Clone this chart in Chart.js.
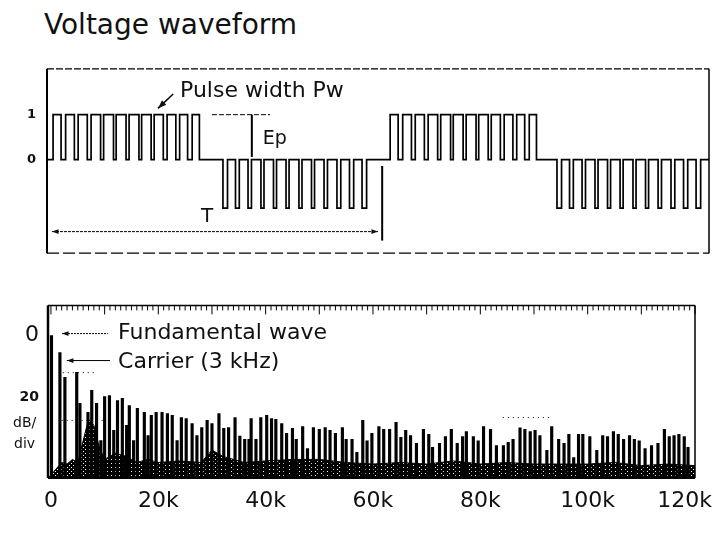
<!DOCTYPE html>
<html>
<head>
<meta charset="utf-8">
<script src="https://cdn.jsdelivr.net/npm/chart.js@4.4.1/dist/chart.umd.min.js"></script>
<style>
  body { margin: 0; background: #fff; width: 715px; height: 533px; overflow: hidden; position: relative; }
  #title { position: absolute; left: 44px; top: 11px; font: 28px/1 'DejaVu Sans', sans-serif; color: #111; }
  #wave { position: absolute; left: 0; top: 50px; }
  #spec { position: absolute; left: 0; top: 288px; }
</style>
</head>
<body>
<div id="title">Voltage waveform</div>
<canvas id="wave" width="715" height="222"></canvas>
<canvas id="spec" width="715" height="245"></canvas>
<script>
// Voltage waveform (time in ms, level in units of Ep)
const halfCycleStart = [0.16, 4.63, 9.03, 13.42];
const halfCycleLevel = [1, -1.08, 1, -1.08];
const pulseRise = [0, 0.33, 0.66, 1.0, 1.33, 1.66, 2.0, 2.33, 2.66, 3.0, 3.33, 3.66];
// width of each pulse: wide high pulses in the positive half, narrow dips in the negative half
const posPulseWidth = [0.21, 0.23, 0.24, 0.25, 0.26, 0.26, 0.26, 0.25, 0.24, 0.23, 0.21, 0.19];
const negPulseWidth = [0.12, 0.1, 0.09, 0.08, 0.08, 0.08, 0.08, 0.08, 0.09, 0.1, 0.11, 0.12];
const levelTicks = [0, 1];

// Spectrum (frequency in kHz, level in dB)
const specKHz = [0.1, 1.67, 2.6, 4.8, 5.4, 6.9, 7.6, 8.5, 9.3, 10.0, 10.9, 11.7, 12.4, 13.3, 14.1, 14.6, 15.4, 16.1,
  17.4, 18.1, 18.7, 19.6, 20.7, 21.7, 22.6, 23.5, 24.3, 25.2, 26.3, 27.2, 28.1, 29.1, 30.0, 31.3, 32.2, 33.1,
  34.3, 35.2, 36.1, 36.9, 37.3, 38.2, 39.1, 40.2, 41.1, 41.9, 43.0, 43.9, 45.0, 45.7, 46.9, 47.8, 48.9, 50.0,
  51.1, 52.0, 53.0, 54.3, 55.0, 56.1, 57.0, 58.1, 58.9, 59.8, 61.1, 62.0, 63.1, 64.3, 65.2, 66.1, 67.0, 68.1,
  69.4, 70.4, 71.1, 72.4, 73.5, 74.6, 75.7, 76.7, 77.4, 78.7, 79.6, 80.6, 81.9, 83.0, 84.3, 85.2, 86.1, 87.4,
  88.3, 89.3, 90.2, 91.1, 92.4, 93.3, 94.6, 95.6, 96.5, 97.4, 98.3, 99.1, 100.4, 101.7, 102.8, 103.7, 104.8,
  105.7, 106.7, 107.8, 108.7, 109.6, 110.7, 111.9, 113.1, 114.3, 115.2, 116.1, 117.0, 118.0, 118.7];
const specDb = [0, -5.5, -13.5, -11.9, -21.9, -24.8, -17.7, -21.9, -33.9, -19.7, -19.4, -30.6, -21, -20.3, -29, -22.6, -33.9, -23.5,
  -24.8, -32.3, -25.8, -24.8, -24.8, -25.2, -25.8, -33.9, -26.5, -26.8, -28.4, -32.3, -29.7, -27.4, -28.4, -25.2, -30, -29.7,
  -26.5, -32.5, -33.5, -33.5, -26.8, -33.5, -26.5, -25.8, -26.8, -27.1, -28.4, -31.6, -30, -33.5, -29.4, -36.5, -29.7, -30.3,
  -29.7, -30.6, -31.6, -29.7, -33.5, -33.5, -37.7, -27.4, -34, -31.6, -29.4, -30.3, -30.3, -28, -32.9, -30.6, -32.3, -34.8,
  -30.3, -31.9, -36.1, -34.8, -32.6, -30.3, -34.8, -32.6, -31, -32.6, -34, -29.4, -30.3, -35.5, -35.5, -34.5, -33.5, -29.8,
  -30.3, -31, -30.6, -32.3, -37.1, -29.4, -33.5, -34.8, -31.9, -39.4, -31.9, -31.9, -32.6, -37.1, -32.3, -32.6, -31,
  -31.9, -33.5, -32.3, -33.5, -34, -36.5, -35.5, -34.8, -30.3, -32.6, -32.3, -31.9, -32.6, -36.1];
const floorKHz = [-0.5, 1, 2, 3, 4, 5, 6, 7, 8, 9, 10, 12, 14, 16, 18, 20, 24, 28, 30, 32, 36, 40, 45, 50, 55, 60,
  65, 70, 75, 80, 85, 90, 95, 100, 105, 110, 115, 120];
const floorDb = [-46, -43, -41, -41.5, -40, -41, -34, -27, -29, -36, -40, -38, -39, -41, -40, -41, -40.5, -41, -37, -39, -41,
  -40.5, -40, -40, -41, -41.5, -41, -41.5, -40.5, -41.5, -41, -41.5, -41.5, -41.5, -41, -42, -41.5, -42];
const freqTicks = [0, 20, 40, 60, 80, 100];
const dbTicks = [0, -20];

const FONT = 'DejaVu Sans';
const INK = '#111';

// build the PWM trace from the pulse tables
const wavePoints = [{ x: 0, y: 0 }];
halfCycleStart.forEach((start, b) => {
  const lvl = halfCycleLevel[b];
  const widths = lvl > 0 ? posPulseWidth : negPulseWidth;
  pulseRise.forEach((r, i) => {
    const up = start + r, down = up + widths[i];
    wavePoints.push({ x: up, y: 0 }, { x: up, y: lvl }, { x: down, y: lvl }, { x: down, y: 0 });
  });
});
wavePoints.push({ x: 17.42, y: 0 });

function seg(ctx, x1, y1, x2, y2) {
  ctx.beginPath(); ctx.moveTo(x1, y1); ctx.lineTo(x2, y2); ctx.stroke();
}
function head(ctx, x, y, dir, size) {
  // small filled arrowhead pointing along dir (radians)
  ctx.beginPath();
  ctx.moveTo(x, y);
  ctx.lineTo(x - size * Math.cos(dir - 0.35), y - size * Math.sin(dir - 0.35));
  ctx.lineTo(x - size * Math.cos(dir + 0.35), y - size * Math.sin(dir + 0.35));
  ctx.closePath(); ctx.fill();
}

const waveDecor = {
  id: 'waveDecor',
  afterDraw(chart) {
    const { ctx, chartArea: a, scales: { x, y } } = chart;
    const X = v => x.getPixelForValue(v), Y = v => y.getPixelForValue(v);
    ctx.save();
    ctx.strokeStyle = '#000'; ctx.fillStyle = INK;
    // frame
    ctx.lineWidth = 2; seg(ctx, a.left, a.top, a.left, a.bottom);
    ctx.lineWidth = 1.5; seg(ctx, a.right, a.top, a.right, a.bottom);
    ctx.lineWidth = 1.2;
    ctx.setLineDash([7, 2]); seg(ctx, a.left, a.top, a.right, a.top);
    ctx.setLineDash([12, 4]); seg(ctx, a.left, a.bottom, a.right, a.bottom);
    ctx.setLineDash([]);

    // Pulse width Pw
    ctx.font = '22px ' + FONT; ctx.textBaseline = 'middle'; ctx.textAlign = 'left';
    ctx.fillText('Pulse width Pw', X(3.5), Y(1.52));
    ctx.lineWidth = 1.5;
    seg(ctx, X(3.32), Y(1.46), X(2.92), Y(1.14));
    head(ctx, X(2.92), Y(1.14), Math.atan2(Y(1.14) - Y(1.46), X(2.92) - X(3.32)), 9);

    // Ep
    ctx.lineWidth = 1; ctx.setLineDash([5, 2]);
    seg(ctx, X(4.34), Y(1), X(5.87), Y(1));
    ctx.setLineDash([]); ctx.lineWidth = 2;
    seg(ctx, X(5.39), Y(1), X(5.39), Y(0.06));
    ctx.font = '19px ' + FONT;
    ctx.fillText('Ep', X(5.68), Y(0.46));

    // T
    ctx.font = '20px ' + FONT; ctx.textAlign = 'center';
    ctx.fillText('T', X(4.21), Y(-1.28));
    ctx.lineWidth = 1; ctx.setLineDash([3, 1]);
    seg(ctx, X(0.13), Y(-1.6), X(8.71), Y(-1.6));
    ctx.setLineDash([]);
    head(ctx, X(0.13), Y(-1.6), Math.PI, 7);
    head(ctx, X(8.71), Y(-1.6), 0, 7);
    ctx.lineWidth = 2;
    seg(ctx, X(8.82), Y(-0.14), X(8.82), Y(-1.8));
    ctx.restore();
  }
};

new Chart(document.getElementById('wave'), {
  type: 'line',
  data: {
    datasets: [{
      data: wavePoints,
      borderColor: '#000',
      borderWidth: 1.7,
      pointRadius: 0,
      tension: 0,
      fill: false
    }]
  },
  options: {
    responsive: false,
    animation: false,
    layout: { padding: { top: 7, right: 6, bottom: 10, left: 0 } },
    plugins: { legend: { display: false }, tooltip: { enabled: false } },
    scales: {
      x: { type: 'linear', min: 0, max: 17.42, display: false },
      y: {
        min: -2.08, max: 2.02,
        afterFit: s => { s.width = 47; },
        afterBuildTicks: s => { s.ticks = levelTicks.map(v => ({ value: v })); },
        grid: { display: false, drawTicks: false },
        border: { display: false },
        ticks: { padding: 11, color: INK, font: { family: FONT, size: 13, weight: 'bold' } }
      }
    }
  },
  plugins: [waveDecor]
});

// dotted pattern for the dense sideband floor
function floorPattern() {
  const c = document.createElement('canvas');
  c.width = 4; c.height = 4;
  const g = c.getContext('2d');
  g.fillStyle = '#000'; g.fillRect(0, 0, 4, 4);
  g.fillStyle = '#fff'; g.fillRect(1, 1, 1, 1); g.fillRect(3, 3, 1, 1);
  return g.createPattern(c, 'repeat');
}

const specDecor = {
  id: 'specDecor',
  afterDraw(chart) {
    const { ctx, chartArea: a, scales: { x, y } } = chart;
    const X = v => x.getPixelForValue(v), Y = v => y.getPixelForValue(v);
    ctx.save();
    ctx.strokeStyle = '#000'; ctx.fillStyle = INK;
    // frame
    ctx.lineWidth = 2.5; seg(ctx, a.left, a.top, a.left, a.bottom);
    ctx.lineWidth = 2; seg(ctx, a.left, a.bottom, a.right, a.bottom);
    ctx.lineWidth = 1.5;
    seg(ctx, a.left, a.top, a.right, a.top);
    seg(ctx, a.right, a.top, a.right, a.bottom);
    // inward ticks along the top edge
    ctx.lineWidth = 1;
    for (let k = 0; k <= 120; k++) {
      const px = X(k);
      seg(ctx, px, a.top, px, a.top + (k % 10 === 0 ? 9 : 5));
    }
    // leftover reference dots
    ctx.setLineDash([1, 4]);
    seg(ctx, X(2.2), Y(-12), X(8.6), Y(-12));
    seg(ctx, X(2.0), Y(-27.4), X(10.4), Y(-27.4));
    seg(ctx, X(84.2), Y(-26.5), X(93), Y(-26.5));
    ctx.setLineDash([]);

    // labels with pointers
    ctx.font = '22px ' + FONT; ctx.textBaseline = 'middle'; ctx.textAlign = 'left';
    ctx.fillText('Fundamental wave', X(12.5), Y(0.6));
    ctx.fillText('Carrier (3 kHz)', X(12.5), Y(-8.7));
    ctx.lineWidth = 1;
    ctx.setLineDash([2, 1]);
    seg(ctx, X(2.05), Y(0.6), X(10.6), Y(0.6));
    ctx.setLineDash([]);
    head(ctx, X(2.05), Y(0.6), Math.PI, 7);
    seg(ctx, X(2.96), Y(-8.1), X(11), Y(-8.1));
    head(ctx, X(2.96), Y(-8.1), Math.PI, 7);

    // dB/div under the 20 tick
    ctx.font = '14px ' + FONT; ctx.textAlign = 'left';
    ctx.fillText('dB/', 13, Y(-28.4));
    ctx.fillText('div', 14, Y(-35.2));

    // last tick label and axis caption
    ctx.font = '22px ' + FONT; ctx.textAlign = 'right';
    ctx.fillText('120k', 712, a.bottom + 23);
    ctx.textBaseline = 'alphabetic';
    ctx.fillText('Frequency (Hz)', 712, 528);
    ctx.restore();
  }
};

new Chart(document.getElementById('spec'), {
  type: 'bar',
  data: {
    datasets: [{
      type: 'bar',
      data: specKHz.map((f, i) => ({ x: f, y: specDb[i] })),
      backgroundColor: '#000',
      barThickness: 2.5,
      base: -46,
      order: 0
    }, {
      type: 'line',
      data: floorKHz.map((f, i) => ({ x: f, y: floorDb[i] })),
      borderColor: '#000',
      borderWidth: 1,
      backgroundColor: floorPattern(),
      fill: 'start',
      pointRadius: 0,
      tension: 0,
      order: 1
    }]
  },
  options: {
    responsive: false,
    animation: false,
    layout: { padding: { top: 17, right: 0, bottom: 0, left: 0 } },
    plugins: { legend: { display: false }, tooltip: { enabled: false } },
    scales: {
      x: {
        type: 'linear', min: -0.55, max: 120, offset: false,
        afterFit: s => { s.height = 55; s.paddingRight = 20; },
        afterBuildTicks: s => { s.ticks = freqTicks.map(v => ({ value: v })); },
        grid: { display: false, drawTicks: false },
        border: { display: false },
        ticks: {
          autoSkip: false, maxRotation: 0, padding: 10, color: INK,
          font: { family: FONT, size: 22 },
          callback: v => (v === 0 ? '0' : v + 'k')
        }
      },
      y: {
        min: -46, max: 9.7,
        afterFit: s => { s.width = 48; },
        afterBuildTicks: s => { s.ticks = dbTicks.map(v => ({ value: v })); },
        grid: { display: false, drawTicks: false },
        border: { display: false },
        ticks: {
          padding: 9, color: INK,
          font: c => (c.tick && c.tick.value === 0
            ? { family: FONT, size: 22 }
            : { family: FONT, size: 14, weight: 'bold' }),
          callback: v => String(Math.abs(v))
        }
      }
    }
  },
  plugins: [specDecor]
});
</script>
</body>
</html>
